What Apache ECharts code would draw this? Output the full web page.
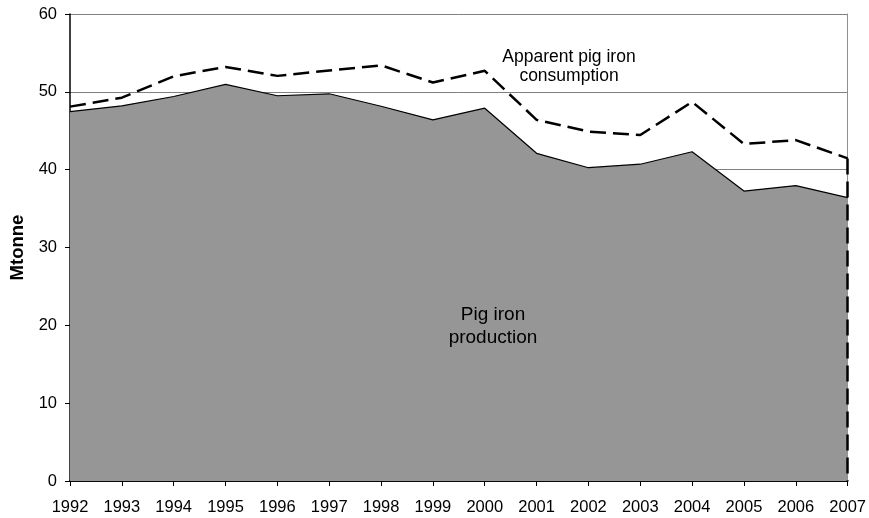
<!DOCTYPE html>
<html><head><meta charset="utf-8">
<script src="https://cdn.jsdelivr.net/npm/echarts@6/dist/echarts.min.js"></script>
<style>html,body{margin:0;padding:0;background:#fff}#c{width:869px;height:518px}</style>
</head><body><div id="c"></div>
<script>
var years = ['1992','1993','1994','1995','1996','1997','1998','1999','2000','2001','2002','2003','2004','2005','2006','2007'];
var production = [47.45, 48.2, 49.4, 50.95, 49.5, 49.75, 48.15, 46.4, 47.9, 42.1, 40.25, 40.7, 42.3, 37.25, 37.95, 36.4];
var consumption = [48.1, 49.25, 52.0, 53.2, 52.05, 52.75, 53.4, 51.2, 52.7, 46.4, 44.9, 44.45, 48.7, 43.3, 43.8, 41.45];
var yTicks = [0, 10, 20, 30, 40, 50, 60];

var FONT = 'Liberation Sans, Arial, sans-serif';
var chart = echarts.init(document.getElementById('c'));
chart.setOption({
  animation: false,
  backgroundColor: '#fff',
  grid: { left: 70, right: 18, top: 14, bottom: 37 },
  xAxis: [{
    type: 'category', data: years, boundaryGap: false,
    axisLine: { lineStyle: { color: '#000', width: 1.5 } },
    axisTick: { show: true, length: 5, lineStyle: { color: '#000' }, alignWithLabel: true },
    axisLabel: { color: '#000', fontFamily: FONT, fontSize: 16.5, margin: 18, interval: 0 },
    splitLine: { show: false }
  }, {
    type: 'category', data: years, boundaryGap: false, position: 'top',
    axisLine: { lineStyle: { color: '#000', width: 1.5 } },
    axisTick: { show: false }, axisLabel: { show: false }
  }],
  yAxis: [{
    type: 'value', min: 0, max: 60, interval: 10,
    axisLine: { show: true, lineStyle: { color: '#000', width: 1.5 } },
    axisTick: { show: true, length: 5, lineStyle: { color: '#000' } },
    axisLabel: { color: '#000', fontFamily: FONT, fontSize: 16.5, margin: 13,
      formatter: function (v) { return yTicks.indexOf(v) >= 0 ? String(v) : ''; } },
    splitLine: { show: true, lineStyle: { color: '#808080', width: 1 } },
    name: 'Mtonne', nameLocation: 'middle', nameGap: 41,
    nameTextStyle: { color: '#000', fontFamily: FONT, fontSize: 18.5, fontWeight: 'bold' }
  }, {
    type: 'value', min: 0, max: 60, interval: 10, position: 'right',
    axisLine: { show: true, lineStyle: { color: '#909090', width: 1 } },
    axisTick: { show: false }, axisLabel: { show: false }, splitLine: { show: false }
  }],
  series: [{
    name: 'Pig iron production', type: 'line', data: production,
    symbol: 'none', z: 2,
    lineStyle: { color: '#000', width: 1.2 },
    areaStyle: { color: '#969696', opacity: 1 }
  }, {
    name: 'Apparent pig iron consumption', type: 'line', data: consumption,
    symbol: 'none', z: 3,
    lineStyle: { color: '#000', width: 2.5, type: [16, 7] },
    markLine: {
      symbol: 'none', silent: true, label: { show: false },
      lineStyle: { color: '#000', width: 2.5, type: [16, 7] },
      data: [[{ coord: [years[years.length - 1], consumption[consumption.length - 1]] },
              { coord: [years[years.length - 1], 0] }]]
    }
  }],
  graphic: [{
    type: 'text', x: 569, y: 66.5, z: 10,
    style: { text: 'Apparent pig iron\nconsumption', fill: '#000', font: '17.5px ' + FONT,
      align: 'center', verticalAlign: 'middle', lineHeight: 19 }
  }, {
    type: 'text', x: 493, y: 326.5, z: 10,
    style: { text: 'Pig iron\nproduction', fill: '#000', font: '19px ' + FONT,
      align: 'center', verticalAlign: 'middle', lineHeight: 23 }
  }]
});
</script></body></html>
